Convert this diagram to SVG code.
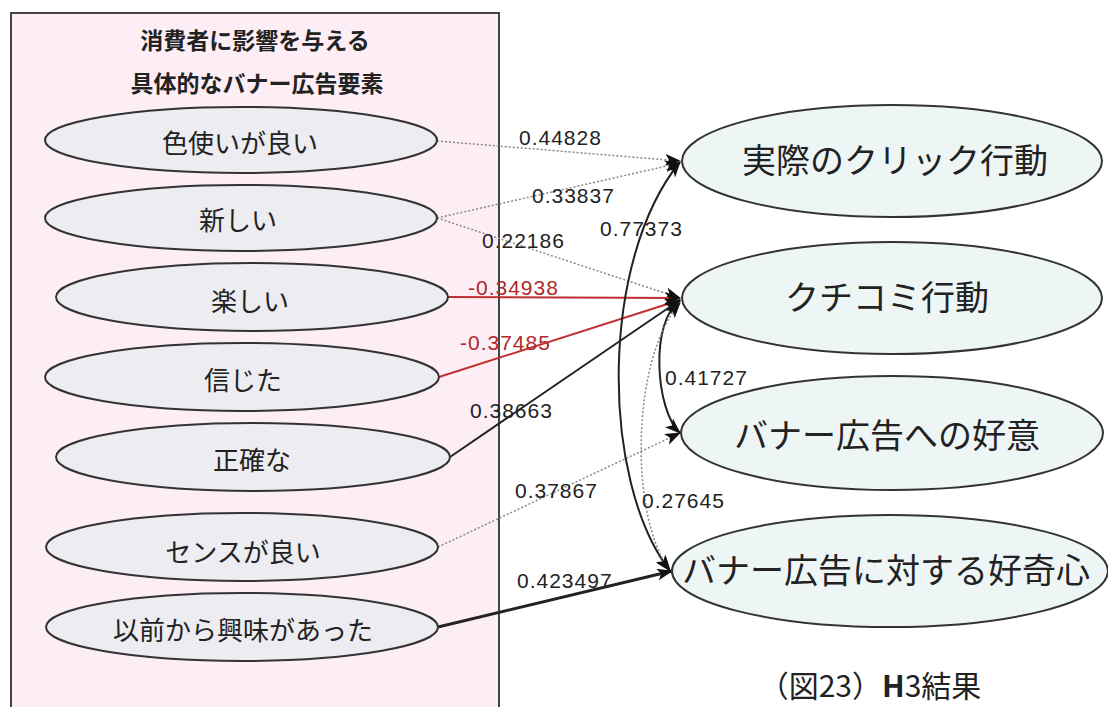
<svg xmlns="http://www.w3.org/2000/svg" width="1108" height="707" viewBox="0 0 1108 707">
<style>
.jp{font-family:"Noto Sans CJK JP","Noto Sans",sans-serif;fill:#222}
.t{font-size:23px;font-weight:bold;text-anchor:middle}
.l{font-size:26px;text-anchor:middle}
.r{font-size:34px;text-anchor:middle}
.num{font-family:"Liberation Sans","Noto Sans",sans-serif;font-size:21px;letter-spacing:1px;fill:#222}
.red{fill:#b02828}
.le{fill:#ececf1;stroke:#333;stroke-width:2}
.re{fill:#eef6f5;stroke:#333;stroke-width:2}
.dot{fill:none;stroke:#888;stroke-width:1.5;stroke-dasharray:2 2}
.rl{fill:none;stroke:#c03030;stroke-width:2}
.bl{fill:none;stroke:#222;stroke-width:2}
.bk{fill:none;stroke:#222;stroke-width:3}
</style>
<defs>
<marker id="ah" markerUnits="userSpaceOnUse" markerWidth="16" markerHeight="12" refX="15" refY="6" orient="auto-start-reverse">
<path d="M0,0 L16,6 L0,12 L4,6 Z" fill="#111"/>
</marker>
</defs>
<rect width="1108" height="707" fill="#fff"/>
<g id="box">
<rect x="11" y="13" width="488" height="710" fill="#fdeef6" stroke="#444" stroke-width="2"/>
<text class="jp t" x="255" y="49">消費者に影響を与える</text>
<text class="jp t" x="257" y="92">具体的なバナー広告要素</text>
</g>
<g id="connectors">
<path class="dot" d="M437,141 L680,161" marker-end="url(#ah)"/>
<path class="dot" d="M437,218 L680,163" marker-end="url(#ah)"/>
<path class="dot" d="M437,218 L680,298" marker-end="url(#ah)"/>
<path class="rl" d="M448,297 L680,298" marker-end="url(#ah)"/>
<path class="rl" d="M439,377 L680,300" marker-end="url(#ah)"/>
<path class="bl" d="M450,457 L680,300" marker-end="url(#ah)"/>
<path class="dot" d="M438,547 L680,433" marker-end="url(#ah)"/>
<path class="bk" d="M438,627 L672,571" marker-end="url(#ah)"/>
<path class="bl" d="M680,162 C600,260 600,480 670,571" stroke-width="2.5" marker-start="url(#ah)" marker-end="url(#ah)"/>
<path class="bl" d="M680,301 C650,320 655,410 680,433" marker-start="url(#ah)" marker-end="url(#ah)"/>
<path class="dot" d="M680,303 C630,360 630,520 670,570" marker-start="url(#ah)" marker-end="url(#ah)"/>
<text class="num" x="519" y="145">0.44828</text>
<text class="num" x="532" y="203">0.33837</text>
<text class="num" x="482" y="248">0.22186</text>
<text class="num red" x="468" y="295">-0.34938</text>
<text class="num red" x="460" y="350">-0.37485</text>
<text class="num" x="470" y="418">0.38663</text>
<text class="num" x="515" y="498">0.37867</text>
<text class="num" x="517" y="588">0.423497</text>
<text class="num" x="600" y="236">0.77373</text>
<text class="num" x="665" y="385">0.41727</text>
<text class="num" x="642" y="508">0.27645</text>
</g>
<g id="n1"><ellipse class="le" cx="241" cy="140" rx="196" ry="33"/><text class="jp l" x="240" y="153">色使いが良い</text></g>
<g id="n2"><ellipse class="le" cx="241" cy="218" rx="196" ry="33"/><text class="jp l" x="238" y="230">新しい</text></g>
<g id="n3"><ellipse class="le" cx="252" cy="297" rx="196" ry="34"/><text class="jp l" x="250" y="311">楽しい</text></g>
<g id="n4"><ellipse class="le" cx="242" cy="377" rx="197" ry="34"/><text class="jp l" x="243" y="390">信じた</text></g>
<g id="n5"><ellipse class="le" cx="253" cy="457" rx="197" ry="34"/><text class="jp l" x="252" y="470">正確な</text></g>
<g id="n6"><ellipse class="le" cx="242" cy="547" rx="196" ry="34"/><text class="jp l" x="243" y="562">センスが良い</text></g>
<g id="n7"><ellipse class="le" cx="242" cy="627" rx="196" ry="34"/><text class="jp l" x="243" y="640">以前から興味があった</text></g>
<g id="r1"><ellipse class="re" cx="892" cy="161" rx="210" ry="56"/><text class="jp r" x="895" y="173">実際のクリック行動</text></g>
<g id="r2"><ellipse class="re" cx="892" cy="298" rx="210" ry="56"/><text class="jp r" x="887" y="310">クチコミ行動</text></g>
<g id="r3"><ellipse class="re" cx="892" cy="433" rx="211" ry="57"/><text class="jp r" x="887" y="448">バナー広告への好意</text></g>
<g id="r4"><ellipse class="re" cx="890" cy="571" rx="218" ry="56"/><text class="jp r" x="886" y="583">バナー広告に対する好奇心</text></g>
<g id="caption"><text class="jp" x="870" y="697" font-size="30" text-anchor="middle">（図23）<tspan font-weight="bold">H</tspan>3結果</text></g>
</svg>
